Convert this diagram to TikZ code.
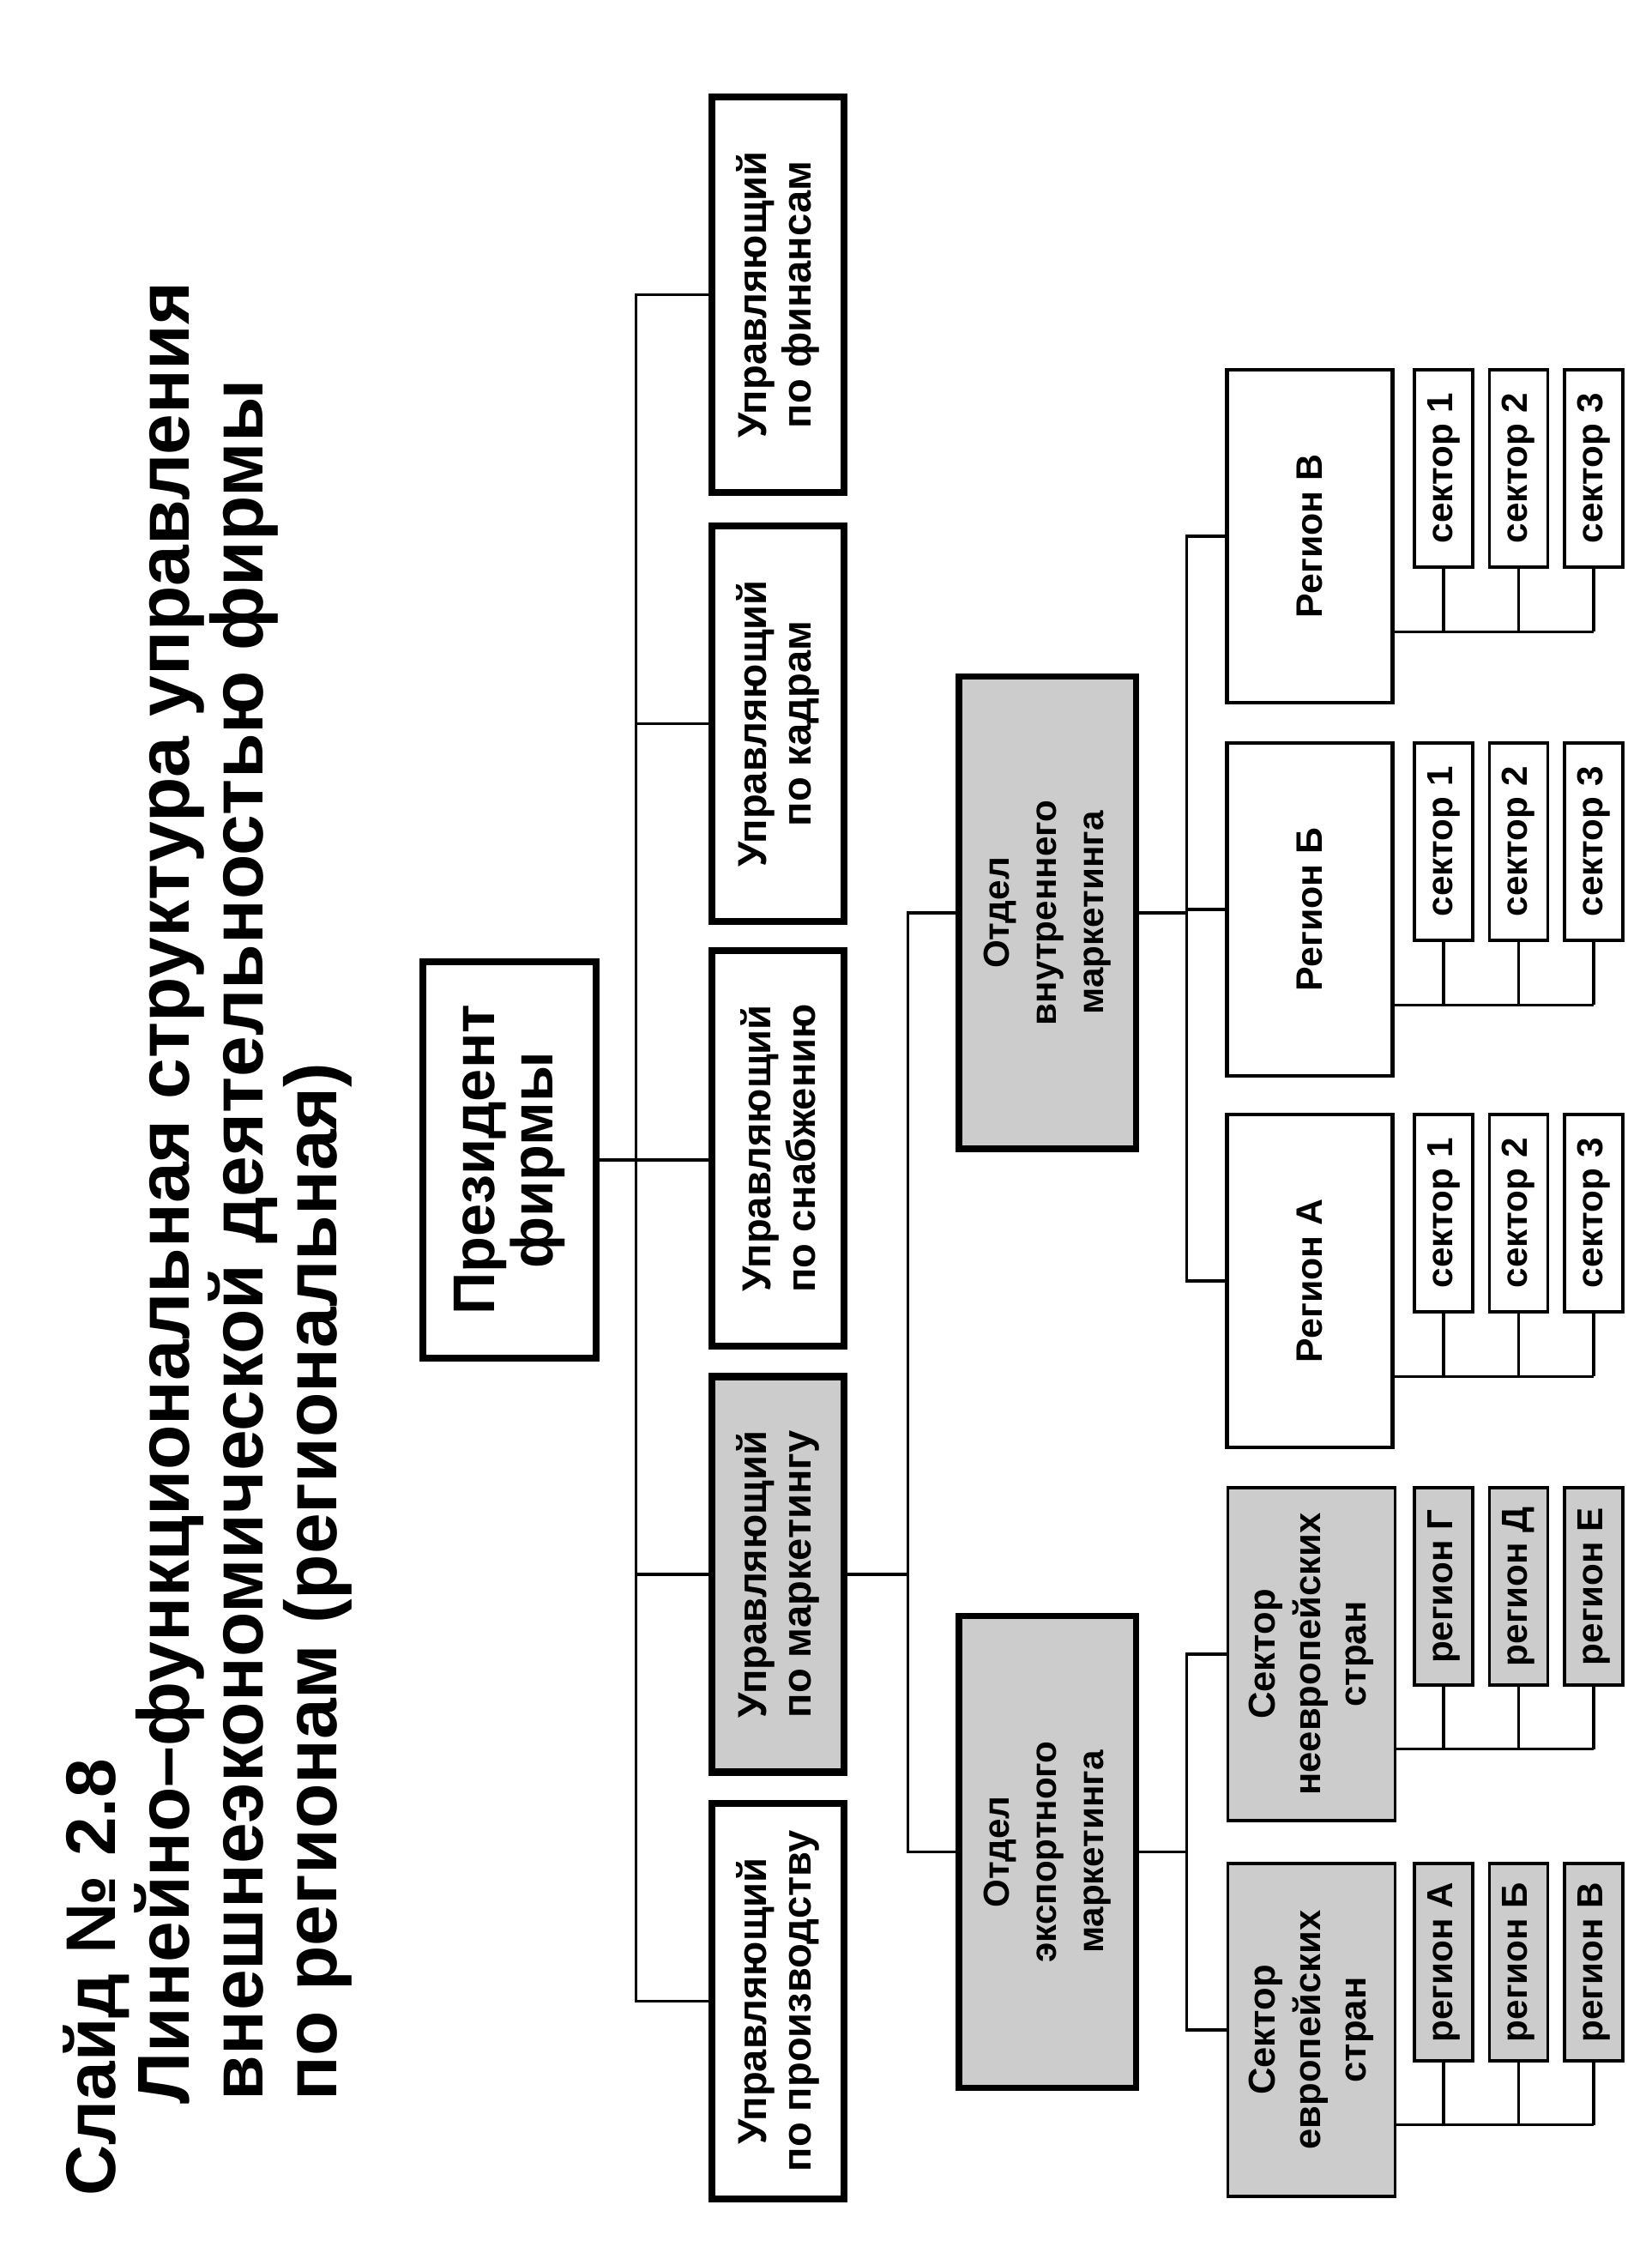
\documentclass[tikz,border=0pt]{standalone}
\usepackage{fontspec}
\setmainfont{Liberation Sans}
\usepackage{xcolor}
\usetikzlibrary{positioning,calc}
\definecolor{halftone}{gray}{0.8}

\tikzset{
    title/.style={inner sep=0pt, anchor=base west, font=\bfseries\fontsize{24.4}{25}\selectfont},
    boss/.style={draw, line width=2.5pt, minimum width=4.62cm, minimum height=2.02cm, align=center, font=\bfseries\fontsize{19.5}{19.5}\selectfont},
    mgr/.style={draw, line width=2.5pt, minimum width=4.61cm, minimum height=1.54cm, align=center, font=\bfseries\fontsize{13.4}{14.8}\selectfont},
    dept/.style={draw, fill=halftone, line width=2pt, minimum width=5.5cm, minimum height=2.06cm, align=center, font=\bfseries\fontsize{12}{15.6}\selectfont},
    sect/.style={draw, fill=halftone, line width=1pt, minimum width=3.88cm, minimum height=1.95cm, align=center, font=\bfseries\fontsize{12.4}{15}\selectfont},
    reg/.style={draw, line width=1.2pt, minimum width=3.88cm, minimum height=1.93cm, font=\bfseries\fontsize{12.2}{14}\selectfont},
    sbox/.style={draw, line width=1.1pt, minimum width=2.3cm, minimum height=0.68cm, inner sep=1pt, font=\bfseries\fontsize{12}{14}\selectfont},
    rbox/.style={sbox, fill=halftone}
}

\begin{document}
\begin{tikzpicture}[rotate=90, transform shape, line width=0.9pt]
    \useasboundingbox (0,0) rectangle (26.12,-19.25);

    % Title
    \node[title, font=\bfseries\fontsize{23.3}{24}\selectfont] (slide) at (0.51,-1.34) {Слайд № 2.8};
    \node[title] (head1) at (1.58,-2.20) {Линейно–функциональная структура управления};
    \node[title] (head2) at (1.62,-3.06) {внешнеэкономической деятельностью фирмы};
    \node[title] (head3) at (1.62,-3.92) {по регионам (региональная)};

    % President and managers
    \node[boss] (pres) at (12.6,-5.94) {Президент\\фирмы};
    \node[mgr] (prod) at (2.795,-9.07) {Управляющий\\по производству};
    \node[mgr, fill=halftone] (mark) at (7.77,-9.07) {Управляющий\\по маркетингу};
    \node[mgr] (snab) at (12.735,-9.07) {Управляющий\\по снабжению};
    \node[mgr] (kadr) at (17.685,-9.07) {Управляющий\\по кадрам};
    \node[mgr] (fin) at (22.685,-9.07) {Управляющий\\по финансам};

    % Departments
    \node[dept] (exp) at (4.535,-12.21) {Отдел\\экспортного\\маркетинга};
    \node[dept] (int) at (15.48,-12.21) {Отдел\\внутреннего\\маркетинга};

    % Sectors and regions
    \node[sect] (eur) at (2.46,-15.29) {Сектор\\европейских\\стран};
    \node[sect] (neur) at (6.84,-15.29) {Сектор\\неевропейских\\стран};
    \node[reg] (regA) at (11.19,-15.27) {Регион А};
    \node[reg] (regB) at (15.52,-15.27) {Регион Б};
    \node[reg] (regV) at (19.87,-15.27) {Регион В};

    % Small boxes
    \foreach \p in {regA,regB,regV}{
        \foreach \i/\rw in {1/16.83,2/17.705,3/18.58}
            \node[sbox, anchor=east] (\p\i) at (\p.east |- 0,-\rw) {сектор \i};
    }
    \foreach \i/\rw/\lbl in {1/16.83/А,2/17.705/Б,3/18.58/В}
        \node[rbox, anchor=east] (eur\i) at (eur.east |- 0,-\rw) {регион \lbl};
    \foreach \i/\rw/\lbl in {1/16.83/Г,2/17.705/Д,3/18.58/Е}
        \node[rbox, anchor=east] (neur\i) at (neur.east |- 0,-\rw) {регион \lbl};

    % Lines
    \draw (pres.south) -- (pres.south |- snab.north);
    \draw (prod.north) -- ++(0,0.84) -| (fin.north);
    \foreach \n in {mark,kadr}
        \draw (\n.north) -- ++(0,0.84);

    \draw (mark.south) -- ++(0,-0.70) coordinate (mbus);
    \draw (exp.north) |- (mbus) -| (int.north);

    \draw (exp.south) -- ++(0,-0.56) coordinate (ebus);
    \draw (eur.north) |- (ebus) -| (neur.north);
    \draw (int.south) -- ++(0,-0.56) coordinate (ibus);
    \draw (regA.north) |- (ibus) -| (regV.north);
    \draw (regB.north) -- (regB.north |- ibus);

    \foreach \p in {regA,regB,regV,eur,neur}{
        \draw (\p.south west) ++(0.85,0) coordinate (\p-l) -- (\p-l |- \p3.west);
        \foreach \i in {1,2,3}
            \draw (\p\i.west) -- (\p\i.west -| \p-l);
    }
\end{tikzpicture}
\end{document}
